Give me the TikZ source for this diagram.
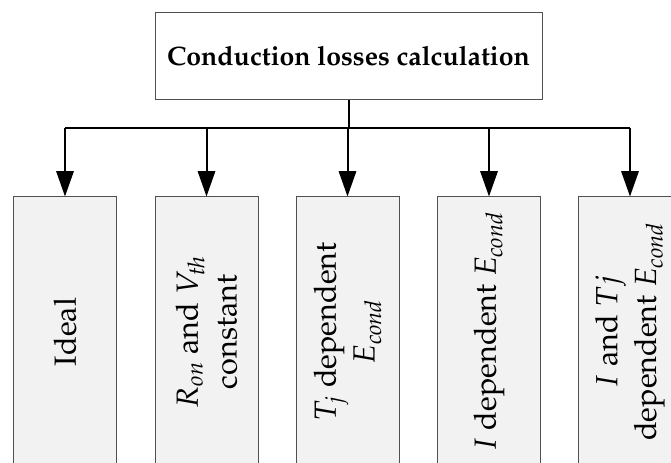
\documentclass[tikz,border=0pt]{standalone}
\usepackage[T1]{fontenc}
\usepackage{mathpazo}
\usetikzlibrary{arrows.meta}
\definecolor{boxfill}{HTML}{F2F2F2}
\definecolor{edgegray}{HTML}{505050}
\begin{document}
\begin{tikzpicture}[x=0.75pt,y=-0.75pt,
  headbox/.style={draw=edgegray, fill=white, line width=0.75pt,
    minimum width=290.25pt, minimum height=65.25pt, inner sep=0pt,
    font=\bfseries\fontsize{20}{24}\selectfont},
  branch/.style={draw=edgegray, fill=boxfill, line width=0.75pt,
    minimum width=77.25pt, minimum height=202.5pt, inner sep=0pt},
  branchtext/.style={rotate=90, align=center, inner sep=0pt,
    font=\fontsize{23}{29}\selectfont},
  bus/.style={line width=1.5pt},
  feed/.style={line width=1.5pt, -{Triangle[length=19pt,width=13pt]}}]
\useasboundingbox (0,0) rectangle (671,463);

% top block
\node[headbox] (top) at (348.5,56.5) {Conduction losses calculation};

% branch blocks
\node[branch] (b1) at (65,332) {};
\node[branch] (b2) at (206.5,332) {};
\node[branch] (b3) at (347.5,332) {};
\node[branch] (b4) at (489,332) {};
\node[branch] (b5) at (630,332) {};

\node[branchtext] (t1) at (b1.center) {Ideal};
\node[branchtext] (t2) at (b2.center) {$R_{\mathit{on}}$ and $V_{\mathit{th}}$\\constant};
\node[branchtext] (t3) at (b3.center) {$T_j$ dependent\\$E_{\mathit{cond}}$};
\node[branchtext] (t4) at (b4.center) {$I$ dependent $E_{\mathit{cond}}$};
\node[branchtext] (t5) at (b5.center) {$I$ and $Tj$\\dependent $E_{\mathit{cond}}$};

% distribution bus
\coordinate (busy) at (0,128);
\draw[bus] (top.south) -- (top.south |- busy);
\draw[bus] (b1.north |- busy) -- (b5.north |- busy);
\foreach \b in {b1,b2,b3,b4,b5}
  \draw[feed] (\b.north |- busy) -- (\b.north);
\end{tikzpicture}
\end{document}
